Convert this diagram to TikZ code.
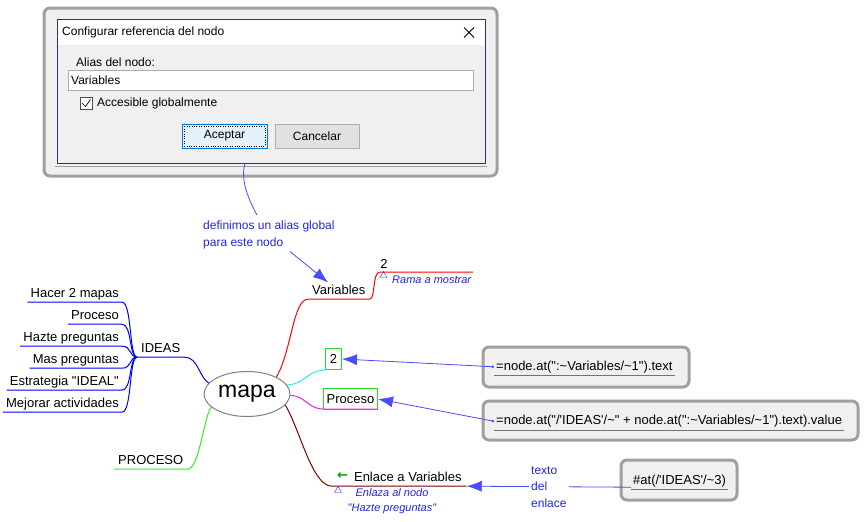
\documentclass[tikz,border=0pt]{standalone}
\usepackage{fontspec}
\setmainfont{Liberation Sans}[Ligatures=TeXOff]
\newfontfamily\symfont{DejaVu Sans}
\usetikzlibrary{arrows.meta,positioning,shapes.geometric}

\definecolor{framegray}{HTML}{A0A0A0}
\definecolor{panelgray}{HTML}{F0F0F0}
\definecolor{winnavy}{HTML}{2E2E8A}
\definecolor{notecol}{HTML}{2424E8}
\definecolor{arrowcol}{HTML}{4A4AFF}
\definecolor{okblue}{HTML}{0078D7}
\definecolor{okfill}{HTML}{E5F1FB}
\definecolor{btngray}{HTML}{E1E1E1}
\definecolor{btnline}{HTML}{ADADAD}
\definecolor{linkbrown}{HTML}{800000}
\definecolor{boxgreen}{HTML}{22DD22}
\definecolor{procgreen}{HTML}{33EE33}
\definecolor{icongreen}{HTML}{119911}
\definecolor{mapcyan}{HTML}{22F0F0}
\definecolor{mapmagenta}{HTML}{F020F0}
\definecolor{mapred}{HTML}{FF0000}
\definecolor{mapblue}{HTML}{0000FF}

\begin{document}
\begin{tikzpicture}
  [
    x=1pt, y=-1pt,
    >={Latex[length=15pt,width=11pt]},
    topic/.style    = {font=\fontsize{13}{15}\selectfont, inner xsep=3pt, inner ysep=2pt, text depth=3pt},
    dlgtext/.style  = {font=\fontsize{12}{14}\selectfont, inner sep=0pt},
    formula/.style  = {font=\fontsize{13}{15}\selectfont, inner xsep=2pt, inner ysep=2pt, text depth=3pt, anchor=base west},
    panel/.style    = {draw=framegray, line width=3pt, fill=panelgray, rounded corners=6pt},
    note/.style     = {font=\fontsize{12}{17}\selectfont, text=notecol, align=left, inner sep=2pt},
    hint/.style     = {font=\fontsize{11}{15}\selectfont\itshape, text=notecol, align=center, inner sep=1pt},
    marker/.style   = {draw=notecol, regular polygon, regular polygon sides=3, inner sep=0pt, minimum size=8pt},
    valuebox/.style = {draw=boxgreen, line width=1pt, font=\fontsize{13}{15}\selectfont, minimum height=21pt, inner sep=0pt, anchor=south west},
    branch/.style   = {line width=1pt},
    notelink/.style = {draw=arrowcol, line width=0.8pt, ->},
    dotlink/.style  = {notelink, {Circle[length=2.5pt]}-{Latex[length=15pt,width=11pt]}},
  ]

\path[use as bounding box, fill=white] (0,0) rectangle (865,522);

%Dialog window
\draw[panel] (44,8) rectangle (497,176);
\draw[winnavy, fill=panelgray] (57,19) rectangle (485,163);
\fill[white] (57.5,19.5) rectangle (484.5,45);
\draw[framegray] (55,166) -- (487,166);
\node[dlgtext, anchor=west] (title) at (62,32) {Configurar referencia del nodo};
\draw[line width=0.8pt] (464,27.5) -- (474,37.5) (464,37.5) -- (474,27.5);
\node[dlgtext, anchor=west] (aliaslbl) at (76,62) {Alias del nodo:};
\draw[draw=btnline, fill=white] (68,70) rectangle (473,90);
\node[dlgtext, anchor=west] (aliasval) at (71,80) {Variables};
\draw[draw=black!70, fill=white] (80,97) rectangle (92,109);
\draw[line width=0.7pt] (82,103) -- (85.5,106.5) -- (90.5,99.5);
\node[dlgtext, anchor=west] (globlbl) at (97,103) {Accesible globalmente};
\node[dlgtext, draw=okblue, fill=okfill, minimum width=85pt, minimum height=24pt] (okbtn) at (224.5,136) {Aceptar};
\draw[dotted] ([shift={(2.5,2.5)}]okbtn.north west) rectangle ([shift={(-2.5,-2.5)}]okbtn.south east);
\node[dlgtext, draw=btnline, fill=btngray, minimum width=84pt, minimum height=24pt] (cancelbtn) at (317,136) {Cancelar};
\coordinate (dlgpin) at (245,163);

%Note on the alias
\node[note, anchor=north west] (alias) at (201,219) {definimos un alias global\\para este nodo};
\draw[arrowcol, line width=0.8pt] (dlgpin) .. controls +(-5,18) and +(-8,-15) .. ([shift={(56,-4)}]alias.north west);

%Central topic
\node[draw=gray, line width=1pt, ellipse, fill=white, minimum width=86pt, minimum height=45pt, inner sep=0pt,
      font=\fontsize{23}{26}\selectfont] (mapa) at (247,394) {mapa};

%IDEAS and its children
\node[topic, anchor=base west, inner xsep=4pt] (ideas) at (137,352) {IDEAS};
\foreach [count=\i] \j in {Hacer 2 mapas,Proceso,Hazte preguntas,Mas preguntas,Estrategia "IDEAL",Mejorar actividades}
{
\node[topic, anchor=base east] (c\i) at (122,{275+22*\i}) {\j};
\draw[branch, mapblue] (c\i.south west) -- (c\i.south east) .. controls +(10,0) and +(-8,0) .. (ideas.south west);
}
\draw[branch, mapblue] (ideas.south west) -- (ideas.south east) .. controls +(14,0) and +(-10,-6) .. (mapa.164);

%PROCESO
\node[topic, anchor=base west, inner xsep=4pt] (proceso) at (114,464) {PROCESO};
\draw[branch, procgreen] (proceso.south west) -- (proceso.south east) .. controls +(12,0) and +(-8,12) .. (mapa.200);

%Variables branch
\node[topic, anchor=base west, inner xsep=4pt] (var) at (308,294) {Variables};
\coordinate (ramastart) at (380,272);
\coordinate (ramaend) at (473,272);
\draw[branch, mapred] (mapa.30) .. controls +(15,-25) and +(-15,0) .. (var.south west) -- (var.south east)
      .. controls +(6,0) and +(-8,0) .. (ramastart) -- (ramaend);
\node[font=\fontsize{13}{15}\selectfont, anchor=base] (ramacount) at (384,268) {2};
\node[marker] (ramamark) at (383.5,275.5) {};
\node[hint, anchor=west] (ramatext) at (391,280) {Rama a mostrar};
\draw[notelink] ([xshift=89pt]alias.south west) -- ([xshift=20pt]var.north west);

%Computed values
\node[valuebox, minimum width=16pt] (two) at (325,370) {2};
\draw[branch, mapcyan] (mapa.13) .. controls +(18,0) and +(-18,0) .. (two.south west);
\node[valuebox, minimum width=54pt] (proc) at (323,410) {Proceso};
\draw[branch, mapmagenta] (mapa.358) .. controls +(15,0) and +(-15,0) .. ([yshift=1pt]proc.south west) -- ([yshift=1pt]proc.south east);

%Link branch
\node[topic, anchor=base west, inner xsep=5pt] (enl) at (332,481)
      {\raisebox{1.5pt}{\symfont\bfseries\fontsize{13}{15}\selectfont\textcolor{icongreen}{←}}\hspace{6pt}Enlace a Variables};
\draw[branch, linkbrown] (mapa.344) .. controls +(15,25) and +(-20,0) .. (enl.south west) -- (enl.south east);
\node[marker] (enlmark) at (338,490.5) {};
\node[hint] (enlhint) at (392,501) {Enlaza al nodo\\"Hazte preguntas"};

%Formula boxes
\draw[panel] (483,347) rectangle (689,387);
\node[formula] (f1) at (494,370) {=node.at(":\textasciitilde Variables/\textasciitilde 1").text};
\draw[black!55] (f1.south west) -- (f1.south east);
\draw[dotlink] (f1.west) -- (two.east);

\draw[panel] (483,401) rectangle (858,440);
\node[formula] (f2) at (494,424.5) {=node.at("/\textquotesingle IDEAS\textquotesingle/\textasciitilde" + node.at(":\textasciitilde Variables/\textasciitilde 1").text).value};
\draw[black!55] (f2.south west) -- (f2.south east);
\draw[dotlink] (f2.west) -- (proc.east);

\draw[panel] (621,460) rectangle (737,500);
\node[formula] (f3) at (631,484) {\#at(/\textquotesingle IDEAS\textquotesingle/\textasciitilde 3)};
\draw[black!55] (f3.south west) -- (f3.south east);
\draw[notelink] ([yshift=2pt]f3.south west) -- node[note, fill=white, font=\fontsize{12}{16.5}\selectfont] (linklabel) {texto\\del\\enlace} (enl.south east);
\end{tikzpicture}
\end{document}
